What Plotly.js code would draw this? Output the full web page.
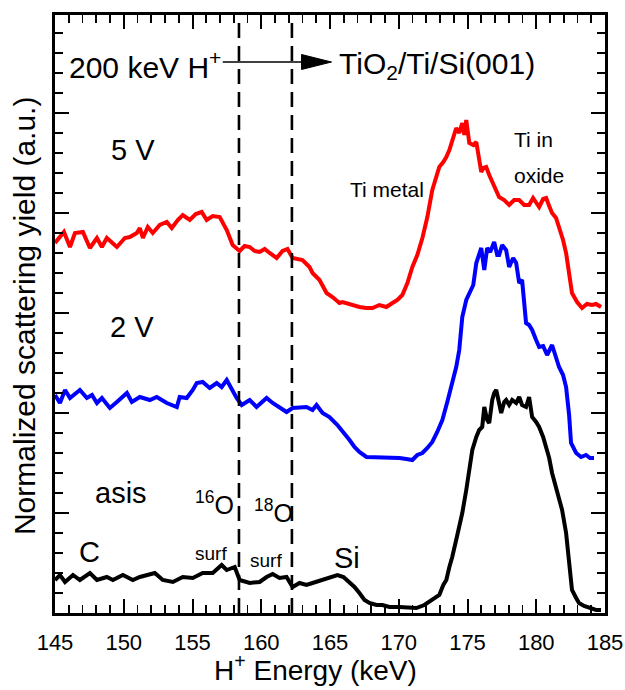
<!DOCTYPE html>
<html>
<head>
<meta charset="utf-8">
<script src="https://cdn.plot.ly/plotly-3.0.1.min.js"></script>
<style>body{margin:0;padding:0;background:#fff;} #chart{width:625px;height:690px;}</style>
</head>
<body>
<div id="chart"></div>
<script>
// ---- data (energy in keV, yield in a.u., curves offset vertically as in the figure) ----
const energy5V = [145.00,145.65,146.09,146.45,147.03,147.54,148.05,148.41,148.77,149.50,150.08,150.44,150.95,151.17,151.39,151.75,152.11,152.62,153.13,153.49,153.93,154.29,154.80,155.24,155.67,156.03,156.47,156.98,157.49,157.92,158.43,158.79,159.16,159.52,159.88,160.25,160.61,161.12,161.55,161.91,162.28,163.00,163.51,163.73,164.24,164.75,165.18,165.69,165.91,166.63,167.14,167.65,168.09,168.59,169.10,169.54,169.90,170.26,170.63,170.99,171.35,171.72,172.08,172.44,172.73,172.95,173.24,173.46,173.68,173.89,174.18,174.40,174.62,174.77,174.91,175.13,175.42,175.64,175.85,176.00,176.15,176.36,176.58,176.80,177.09,177.30,177.67,178.03,178.39,178.76,179.12,179.48,179.77,179.99,180.21,180.50,180.72,180.94,181.15,181.44,181.66,181.95,182.17,182.39,182.60,182.97,183.33,183.69,184.06,184.35,184.71];
const yield5V = [3.70,3.81,3.66,3.80,3.81,3.65,3.75,3.66,3.75,3.66,3.75,3.76,3.80,3.85,3.75,3.86,3.80,3.88,3.91,3.85,3.93,3.98,3.93,3.99,4.01,3.93,3.97,3.96,3.83,3.68,3.62,3.67,3.66,3.62,3.61,3.64,3.60,3.55,3.62,3.64,3.55,3.53,3.46,3.40,3.33,3.20,3.16,3.10,3.11,3.08,3.06,3.05,3.05,3.08,3.06,3.10,3.13,3.18,3.30,3.46,3.58,3.75,3.96,4.23,4.38,4.46,4.51,4.56,4.63,4.73,4.85,4.80,4.90,4.78,4.93,4.70,4.68,4.71,4.53,4.41,4.45,4.46,4.38,4.31,4.23,4.16,4.13,4.08,4.13,4.13,4.08,4.08,4.15,4.11,4.06,4.14,4.15,4.07,4.00,3.95,3.86,3.73,3.60,3.41,3.20,3.11,3.05,3.09,3.08,3.09,3.06];

const energy2V = [145.00,145.36,145.73,146.09,146.81,147.32,147.69,148.05,148.41,148.99,149.50,150.23,150.59,151.17,151.90,152.40,153.13,153.86,154.07,154.58,155.02,155.31,155.74,156.25,156.76,157.12,157.49,157.85,158.21,158.58,159.16,159.66,160.39,160.83,161.33,161.84,162.28,162.79,163.29,163.73,164.02,164.46,164.96,165.54,165.98,166.42,166.78,167.14,167.65,168.09,168.59,169.10,169.54,170.05,170.55,170.99,171.35,171.72,172.08,172.44,172.80,173.17,173.53,173.89,174.18,174.40,174.62,174.91,175.13,175.42,175.64,175.85,176.00,176.22,176.43,176.65,176.94,177.16,177.30,177.52,177.81,178.03,178.32,178.54,178.76,178.97,179.12,179.26,179.48,179.70,179.99,180.21,180.50,180.79,181.15,181.44,181.66,181.95,182.17,182.39,182.53,182.90,183.26,183.62,183.91,184.20];
const yield2V = [2.18,2.10,2.23,2.15,2.23,2.15,2.18,2.10,2.15,2.05,2.11,2.20,2.11,2.16,2.13,2.16,2.10,2.06,2.16,2.15,2.23,2.30,2.31,2.25,2.30,2.26,2.33,2.23,2.15,2.08,2.13,2.06,2.15,2.10,2.06,2.01,2.05,2.06,2.06,2.03,2.08,2.00,1.96,1.88,1.81,1.73,1.66,1.61,1.56,1.56,1.55,1.56,1.55,1.55,1.54,1.53,1.58,1.60,1.65,1.71,1.81,1.93,2.11,2.30,2.46,2.63,2.96,3.13,3.20,3.28,3.50,3.58,3.65,3.43,3.65,3.61,3.71,3.58,3.58,3.68,3.63,3.46,3.55,3.50,3.30,3.33,3.13,2.90,2.88,2.83,2.73,2.66,2.67,2.58,2.68,2.55,2.46,2.38,2.26,1.98,1.70,1.60,1.56,1.58,1.55,1.55];

const energyAsis = [145.00,145.36,145.73,146.31,146.81,147.54,148.05,148.77,149.21,149.94,150.66,151.17,152.26,152.84,153.57,154.29,155.02,155.74,156.47,157.12,157.49,158.07,158.43,159.16,159.88,160.39,160.83,161.33,161.84,162.28,162.79,163.29,163.73,164.46,164.96,165.54,165.98,166.42,166.78,167.14,167.51,167.87,168.38,168.81,169.32,170.05,170.77,171.28,171.86,172.22,172.59,172.95,173.24,173.46,173.68,173.89,174.26,174.62,174.91,175.13,175.35,175.64,175.85,176.07,176.22,176.43,176.58,176.80,176.94,177.09,177.30,177.45,177.67,177.81,178.03,178.25,178.54,178.76,178.97,179.26,179.48,179.70,179.99,180.21,180.50,180.72,180.94,181.15,181.44,181.66,181.88,182.17,182.39,182.60,182.90,183.11,183.48,183.84,184.35,184.71];
const yieldAsis = [0.33,0.38,0.31,0.38,0.33,0.40,0.33,0.36,0.33,0.38,0.33,0.36,0.40,0.33,0.31,0.36,0.35,0.40,0.40,0.48,0.43,0.46,0.33,0.30,0.31,0.36,0.39,0.35,0.36,0.26,0.30,0.28,0.30,0.33,0.35,0.38,0.36,0.31,0.26,0.20,0.13,0.10,0.08,0.08,0.06,0.06,0.05,0.05,0.08,0.11,0.15,0.18,0.28,0.33,0.46,0.56,0.78,1.00,1.23,1.46,1.63,1.76,1.83,1.86,2.06,1.93,1.90,2.13,2.20,2.23,2.08,2.00,2.11,2.13,2.08,2.13,2.10,2.16,2.08,2.06,2.16,1.96,1.91,1.86,1.76,1.66,1.55,1.40,1.26,1.13,1.03,0.80,0.53,0.23,0.15,0.10,0.07,0.05,0.03,0.03];

const seriesNames = ['5 V', '2 V', 'asis'];
const seriesColors = ['#ff0000', '#0000ff', '#000000'];
const surfaceEdges = [158.38, 162.23];   // 16O and 18O surface energies (dashed markers)
const xTickVals = [145,150,155,160,165,170,175,180,185];

const FONT = 'Liberation Sans, Arial, sans-serif';

const traces = [
  {x: energy5V, y: yield5V, name: seriesNames[0]},
  {x: energy2V, y: yield2V, name: seriesNames[1]},
  {x: energyAsis, y: yieldAsis, name: seriesNames[2]}
].map((t, i) => Object.assign(t, {
  type: 'scatter', mode: 'lines',
  line: {color: seriesColors[i], width: 4, shape: 'linear'},
  hoverinfo: 'skip', showlegend: false
}));

const shapes = surfaceEdges.map(e => ({
  type: 'line', xref: 'x', yref: 'paper', x0: e, x1: e, y0: 0, y1: 1,
  line: {color: '#000', width: 2.6, dash: '15px,8px'}, layer: 'above'
}));
// beam arrow
shapes.push({type: 'line', xref: 'x', yref: 'y', x0: 157.2, x1: 163.0, y0: 5.51, y1: 5.51,
  line: {color: '#000', width: 1.4}});
shapes.push({type: 'path', xref: 'x', yref: 'y',
  path: 'M 162.93 5.585 L 165.11 5.51 L 162.93 5.435 Z',
  fillcolor: '#000', line: {color: '#000', width: 1}});

function ann(text, x, y, size, xanchor, yanchor, extra) {
  return Object.assign({text: text, xref: 'paper', yref: 'paper', x: x, y: y,
    xanchor: xanchor || 'center', yanchor: yanchor || 'middle', showarrow: false,
    font: {family: FONT, size: size, color: '#000'}}, extra || {});
}

const annotations = [
  ann('200 keV H<sup>+</sup>', 0.305, 0.916, 30, 'right'),
  ann('TiO<sub>2</sub>/Ti/Si(001)', 0.512, 0.916, 30, 'left'),
  ann('5 V', 0.1416, 0.774, 29),
  ann('Ti metal', 0.604, 0.709, 21),
  ann('Ti in', 0.831, 0.791, 21, 'left'),
  ann('oxide', 0.831, 0.731, 21, 'left'),
  ann('2 V', 0.140, 0.478, 29),
  ann('asis', 0.120, 0.201, 29),
  ann('C', 0.0635, 0.102, 29),
  ann('<sup>16</sup>O', 0.250, 0.154, 25, 'left', 'bottom'),
  ann('<sup>18</sup>O', 0.3575, 0.1405, 25, 'left', 'bottom'),
  ann('surf', 0.250, 0.100, 19, 'left'),
  ann('surf', 0.350, 0.087, 19, 'left'),
  ann('Si', 0.503, 0.092, 29, 'left'),
  ann('Normalized scattering yield (a.u.)', -0.0544, 0.4967, 30, 'center', 'middle', {textangle: -90}),
  ann('H<sup>+</sup> Energy (keV)', 0.474, -0.0917, 28)
];

const layout = {
  width: 625, height: 690,
  margin: {l: 55, r: 20, t: 15, b: 77, pad: 0},
  paper_bgcolor: '#fff', plot_bgcolor: '#fff',
  font: {family: FONT, color: '#000'},
  xaxis: {
    range: [145, 185], showgrid: false, zeroline: false,
    showline: true, linecolor: '#000', linewidth: 2.6, mirror: 'ticks',
    ticks: 'inside', ticklen: 14, tickwidth: 2, tickcolor: '#000',
    tickvals: xTickVals, ticktext: xTickVals.map(String),
    tickfont: {family: FONT, size: 22, color: '#000'},
    ticklabelstandoff: 8,
    minor: {dtick: 1, ticks: 'inside', ticklen: 8, tickwidth: 1.6, tickcolor: '#000', showgrid: false}
  },
  yaxis: {
    range: [0, 5.98], showgrid: false, zeroline: false,
    showline: true, linecolor: '#000', linewidth: 2.6, mirror: 'ticks',
    ticks: 'inside', ticklen: 14, tickwidth: 2, tickcolor: '#000',
    tick0: 0, dtick: 1, showticklabels: false,
    minor: {dtick: 0.2, ticks: 'inside', ticklen: 8, tickwidth: 1.6, tickcolor: '#000', showgrid: false}
  },
  shapes: shapes,
  annotations: annotations,
  showlegend: false
};

Plotly.newPlot('chart', traces, layout, {displayModeBar: false, staticPlot: true});
</script>
</body>
</html>
